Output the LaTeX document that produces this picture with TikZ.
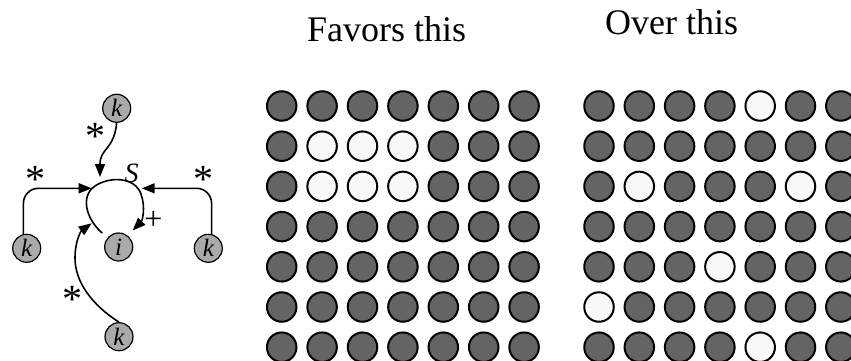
\documentclass[tikz,border=0pt]{standalone}
\usepackage{fontspec}
\setmainfont{Liberation Serif}
\usetikzlibrary{arrows.meta}
\definecolor{kgray}{RGB}{170,170,170}
\definecolor{dgray}{RGB}{100,100,100}
\definecolor{lgray}{RGB}{248,248,248}
\begin{document}
\begin{tikzpicture}[x=1pt,y=-1pt,
  knode/.style={circle,draw,line width=1.2pt,fill=kgray,minimum size=28pt,inner sep=0pt,font=\fontsize{25}{25}\selectfont\itshape},
  dot/.style={circle,draw,line width=2pt,minimum size=29.5pt,inner sep=0pt},
  darkdot/.style={dot,fill=dgray},
  lightdot/.style={dot,fill=lgray},
  arr/.style={line width=1.6pt,-{Triangle[length=13pt,width=10pt]}},
  starlbl/.style={font=\fontsize{40}{40}\selectfont,inner sep=0pt},
  title/.style={font=\fontsize{36}{36}\selectfont,anchor=base,inner sep=0pt}]
\useasboundingbox (0,0) rectangle (851,361);

% titles
\node[title] (t1) at (386.7,42) {Favors this};
\node[title] (t2) at (671.7,35) {Over this};

% left diagram nodes
\node[knode] (tk) at (116.7,108.3) {k};
\node[knode] (lk) at (26.7,248.3) {k};
\node[knode] (i)  at (118.7,247) {i};
\node[knode] (rk) at (208.3,248.3) {k};
\node[knode] (bk) at (119,336.7) {k};

\coordinate (e1) at (100,177);
\coordinate (e2) at (91.7,188.3);
\coordinate (e3) at (141.7,188.3);
\coordinate (e4) at (91.7,223.3);

% self loop
\draw[arr,shorten <=7pt,shorten >=7pt] (i.140) .. controls (86,219) and (80,196) .. (95,186)
  .. controls (110,176) and (135,177) .. (141,194)
  .. controls (146,208) and (142,221) .. (i.52);

\draw[arr] (tk.south) .. controls (114,150) and (100,148) .. (e1);
\draw[arr,rounded corners=15pt] (lk.103) |- (e2);
\draw[arr,rounded corners=15pt] (rk.77) |- (e3);
\draw[arr] (bk.north) .. controls (92,305) and (75,282) .. (75,258)
  .. controls (75,241) and (81,231) .. (e4);

\node[starlbl] (s1) at (95,136) {*};
\node[starlbl] (s2) at (35,179) {*};
\node[starlbl] (s3) at (203,179) {*};
\node[starlbl] (s4) at (72,299) {*};
\node[font=\fontsize{32}{32}\selectfont,inner sep=0pt] (plus) at (153.3,220) {+};
\node[font=\fontsize{28}{28}\selectfont\itshape,inner sep=0pt] (S) at (131.7,173.3) {S};

% grid 1
\foreach \r/\pat in {0/{darkdot,darkdot,darkdot,darkdot,darkdot,darkdot,darkdot},
                     1/{darkdot,lightdot,lightdot,lightdot,darkdot,darkdot,darkdot},
                     2/{darkdot,lightdot,lightdot,lightdot,darkdot,darkdot,darkdot},
                     3/{darkdot,darkdot,darkdot,darkdot,darkdot,darkdot,darkdot},
                     4/{darkdot,darkdot,darkdot,darkdot,darkdot,darkdot,darkdot},
                     5/{darkdot,darkdot,darkdot,darkdot,darkdot,darkdot,darkdot},
                     6/{darkdot,darkdot,darkdot,darkdot,darkdot,darkdot,darkdot}}{
  \foreach \s [count=\c from 0] in \pat {
    \node[\s] (a-\r-\c) at ({281.7+40.4*\c},{106+40.2*\r}) {};
  }
}
% grid 2
\foreach \r/\pat in {0/{darkdot,darkdot,darkdot,darkdot,lightdot,darkdot,darkdot},
                     1/{darkdot,darkdot,darkdot,darkdot,darkdot,darkdot,darkdot},
                     2/{darkdot,lightdot,darkdot,darkdot,darkdot,lightdot,darkdot},
                     3/{darkdot,darkdot,darkdot,darkdot,darkdot,darkdot,darkdot},
                     4/{darkdot,darkdot,darkdot,lightdot,darkdot,darkdot,darkdot},
                     5/{lightdot,darkdot,darkdot,darkdot,darkdot,darkdot,darkdot},
                     6/{darkdot,darkdot,darkdot,darkdot,lightdot,darkdot,darkdot}}{
  \foreach \s [count=\c from 0] in \pat {
    \node[\s] (b-\r-\c) at ({599+40.3*\c},{106+40.2*\r}) {};
  }
}
\end{tikzpicture}
\end{document}
